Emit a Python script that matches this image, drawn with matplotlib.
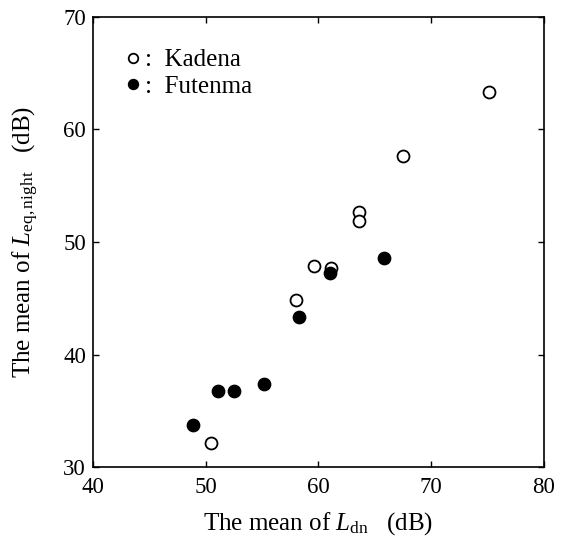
import matplotlib
matplotlib.use('Agg')
import matplotlib.pyplot as plt

plt.rcParams['font.family'] = ['Liberation Serif', 'DejaVu Serif']
plt.rcParams['mathtext.fontset'] = 'custom'
plt.rcParams['mathtext.rm'] = 'Liberation Serif'
plt.rcParams['mathtext.it'] = 'Liberation Serif:italic'

# Kadena (open circles)
kadena_ldn = [75.1, 67.5, 63.6, 63.6, 59.6, 61.1, 58.0, 50.5]
kadena_leq = [63.3, 57.6, 52.7, 51.9, 47.9, 47.7, 44.8, 32.1]
# Futenma (filled circles)
futenma_ldn = [65.8, 61.0, 58.3, 55.2, 52.5, 51.1, 48.9]
futenma_leq = [48.6, 47.2, 43.3, 37.4, 36.8, 36.8, 33.7]

xticks = [40, 50, 60, 70, 80]
yticks = [30, 40, 50, 60, 70]

fig = plt.figure(figsize=(5.66, 5.40), dpi=100)
ax = fig.add_axes([0.164, 0.135, 0.797, 0.834])

ax.plot(kadena_ldn, kadena_leq, 'o', mfc='white', mec='black', ms=8.6, mew=1.3,
        ls='none', label=':  Kadena')
ax.plot(futenma_ldn, futenma_leq, 'o', mfc='black', mec='black', ms=8.6, mew=1.3,
        ls='none', label=':  Futenma')

ax.set_xlim(40, 80)
ax.set_ylim(30, 70)
ax.set_xticks(xticks)
ax.set_yticks(yticks)
ax.tick_params(direction='in', top=True, right=True, length=4.5, width=1,
               labelsize=16.5)
ax.tick_params(axis='x', pad=7)
ax.tick_params(axis='y', pad=5)
for s in ax.spines.values():
    s.set_linewidth(1.2)

ax.set_xlabel(r'The mean of $L_{\mathrm{dn}}$   (dB)', fontsize=18, labelpad=9)
ax.set_ylabel(r'The mean of $L_{\mathrm{eq,night}}$   (dB)', fontsize=18, labelpad=16)

ax.legend(loc='upper left', frameon=False, fontsize=18, handlelength=0.6,
          handletextpad=0.2, borderaxespad=0.0, labelspacing=0.15,
          markerscale=0.8, bbox_to_anchor=(0.05, 0.951))

fig.savefig('out.png', dpi=100)
